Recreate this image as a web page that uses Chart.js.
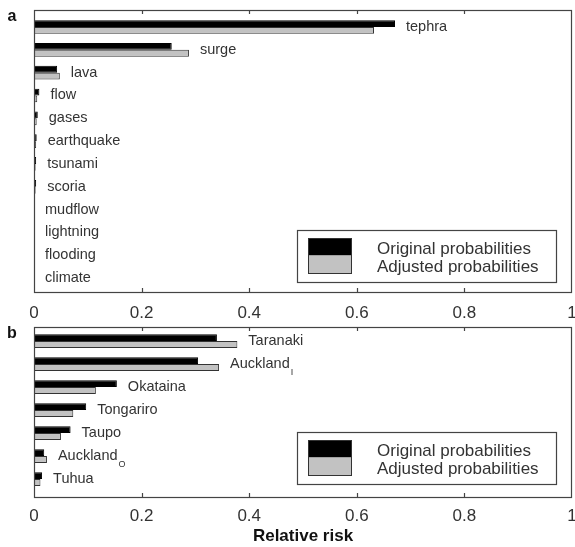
<!DOCTYPE html>
<html>
<head>
<meta charset="utf-8">
<script src="https://cdn.jsdelivr.net/npm/chart.js@4/dist/chart.umd.min.js"></script>
<style>
  html, body { margin: 0; padding: 0; background: #fff; }
  #wrap { position: relative; width: 575px; height: 547px; }
</style>
</head>
<body>
<div id="wrap">
  <div style="position:absolute;left:0;top:0;width:575px;height:324px"><canvas id="chartA"></canvas></div>
  <div style="position:absolute;left:0;top:322px;width:575px;height:225px"><canvas id="chartB"></canvas></div>
</div>
<script>
// panel a: hazard types
const hazards = ["tephra", "surge", "lava", "flow", "gases", "earthquake", "tsunami", "scoria", "mudflow", "lightning", "flooding", "climate"]
const hazardOrig = [0.671, 0.256, 0.043, 0.010, 0.007, 0.005, 0.004, 0.004, 0, 0, 0, 0]
const hazardAdj = [0.632, 0.288, 0.048, 0.006, 0.005, 0.004, 0.003, 0.003, 0, 0, 0, 0]

// panel b: volcanic sources
const sources = ["Taranaki", "Auckland", "Okataina", "Tongariro", "Taupo", "Auckland", "Tuhua"]
const sourceSubs = ["", "I", "", "", "", "O", ""]
const sourceOrig = [0.340, 0.305, 0.154, 0.097, 0.068, 0.019, 0.015]
const sourceAdj = [0.378, 0.344, 0.115, 0.073, 0.050, 0.024, 0.012]

const xTicks = [0, 0.2, 0.4, 0.6, 0.8, 1]
const legendLabels = ["Original probabilities", "Adjusted probabilities"]

const FONT = "'Liberation Sans', Arial, Helvetica, sans-serif"
const TEXT = "#333"
const FRAME = "#444"
const GREY = "#c2c2c2"

function toPoints(values) {
    return values.map((v, i) => ({ x: v, y: i + 1 }))
}

// frame, inward ticks, bar labels, legend, panel letter
function panelPlugin(letter, names, subs, orig, adj, legendBottomGap) {
    return {
        id: "panel" + letter,
        afterDatasetsDraw(chart) {
            const ctx = chart.ctx
            const area = chart.chartArea
            const xs = chart.scales.x
            const ys = chart.scales.y
            ctx.save()

            // frame
            ctx.strokeStyle = FRAME
            ctx.lineWidth = 1.2
            ctx.strokeRect(area.left + 0.5, area.top + 0.5, area.right - area.left - 1, area.bottom - area.top)

            // inward ticks
            xTicks.slice(1, -1).forEach((t) => {
                const px = Math.round(xs.getPixelForValue(t)) + 0.5
                ctx.beginPath()
                ctx.moveTo(px, area.top)
                ctx.lineTo(px, area.top + 4)
                ctx.moveTo(px, area.bottom)
                ctx.lineTo(px, area.bottom - 4)
                ctx.stroke()
            })

            // labels next to bars
            ctx.fillStyle = TEXT
            ctx.textBaseline = "middle"
            ctx.textAlign = "left"
            names.forEach((name, i) => {
                const x = xs.getPixelForValue(Math.max(orig[i], adj[i])) + 11
                const y = ys.getPixelForValue(i + 1)
                ctx.font = "14.5px " + FONT
                ctx.fillText(name, x, y)
                if (subs && subs[i]) {
                    const w = ctx.measureText(name).width
                    ctx.font = "9px " + FONT
                    ctx.fillText(subs[i], x + w + 1, y + 8)
                }
            })

            // legend box
            const bx1 = area.right - 16
            const by2 = area.bottom - legendBottomGap
            const bx0 = bx1 - 259
            const by0 = by2 - 52
            ctx.fillStyle = "#fff"
            ctx.fillRect(bx0, by0, bx1 - bx0, by2 - by0)
            ctx.strokeStyle = FRAME
            ctx.lineWidth = 1.2
            ctx.strokeRect(bx0 + 0.5, by0 + 0.5, bx1 - bx0, by2 - by0)
            const sx = bx0 + 11
            const sy = by0 + 8
            const sh = (by2 - by0 - 17) / 2
            ctx.fillStyle = "#000"
            ctx.fillRect(sx, sy, 43, sh)
            ctx.fillStyle = GREY
            ctx.fillRect(sx, sy + sh, 43, sh)
            ctx.strokeStyle = "#333"
            ctx.lineWidth = 1
            ctx.strokeRect(sx + 0.5, sy + 0.5, 43, sh * 2)
            ctx.fillStyle = TEXT
            ctx.font = "17px " + FONT
            ctx.fillText(legendLabels[0], bx0 + 80, by0 + 19)
            ctx.fillText(legendLabels[1], bx0 + 80, by0 + 37)

            // panel letter
            ctx.fillStyle = "#111"
            ctx.font = "bold 16px " + FONT
            ctx.textAlign = "center"
            ctx.fillText(letter, 12, area.top + 7)
            ctx.restore()
        },
    }
}

function makeChart(canvasId, orig, adj, yMin, yMax, axisHeight, tickPad, withTitle, plugin, padTop) {
    return new Chart(document.getElementById(canvasId), {
        type: "bar",
        data: {
            datasets: [
                {
                    label: legendLabels[0],
                    data: toPoints(orig),
                    backgroundColor: "#000",
                    borderColor: "#000",
                    borderWidth: 1,
                },
                {
                    label: legendLabels[1],
                    data: toPoints(adj),
                    backgroundColor: GREY,
                    borderColor: "#333",
                    borderWidth: 1,
                },
            ],
        },
        options: {
            indexAxis: "y",
            responsive: true,
            maintainAspectRatio: false,
            animation: false,
            categoryPercentage: 0.6,
            barPercentage: 1,
            layout: { padding: { left: 34, right: 3, top: padTop, bottom: 0 } },
            plugins: { legend: { display: false }, tooltip: { enabled: false } },
            scales: {
                y: {
                    type: "linear",
                    reverse: true,
                    offset: false,
                    min: yMin,
                    max: yMax,
                    display: false,
                    afterBuildTicks: (scale) => {
                        scale.ticks = orig.map((v, i) => ({ value: i + 1 }))
                    },
                },
                x: {
                    type: "linear",
                    min: 0,
                    max: 1,
                    grid: { display: false },
                    border: { display: false },
                    afterBuildTicks: (scale) => {
                        scale.ticks = xTicks.map((v) => ({ value: v }))
                    },
                    ticks: {
                        autoSkip: false,
                        maxRotation: 0,
                        padding: tickPad,
                        color: TEXT,
                        font: { family: FONT, size: 17 },
                        callback: (v) => String(v),
                    },
                    title: {
                        display: withTitle,
                        text: "Relative risk",
                        color: "#111",
                        font: { family: FONT, size: 17, weight: "bold" },
                        padding: { top: 0, bottom: 0 },
                    },
                    afterFit: (scale) => {
                        scale.height = axisHeight
                        scale.paddingLeft = 0
                        scale.paddingRight = 0
                    },
                },
            },
        },
        plugins: [plugin],
    })
}

makeChart("chartA", hazardOrig, hazardAdj, 0.255, 12.61, 32, 3, false,
    panelPlugin("a", hazards, null, hazardOrig, hazardAdj, 10), 10)
makeChart("chartB", sourceOrig, sourceAdj, 0.39, 7.78, 50, 1, true,
    panelPlugin("b", sources, sourceSubs, sourceOrig, sourceAdj, 13), 5)
</script>
</body>
</html>
